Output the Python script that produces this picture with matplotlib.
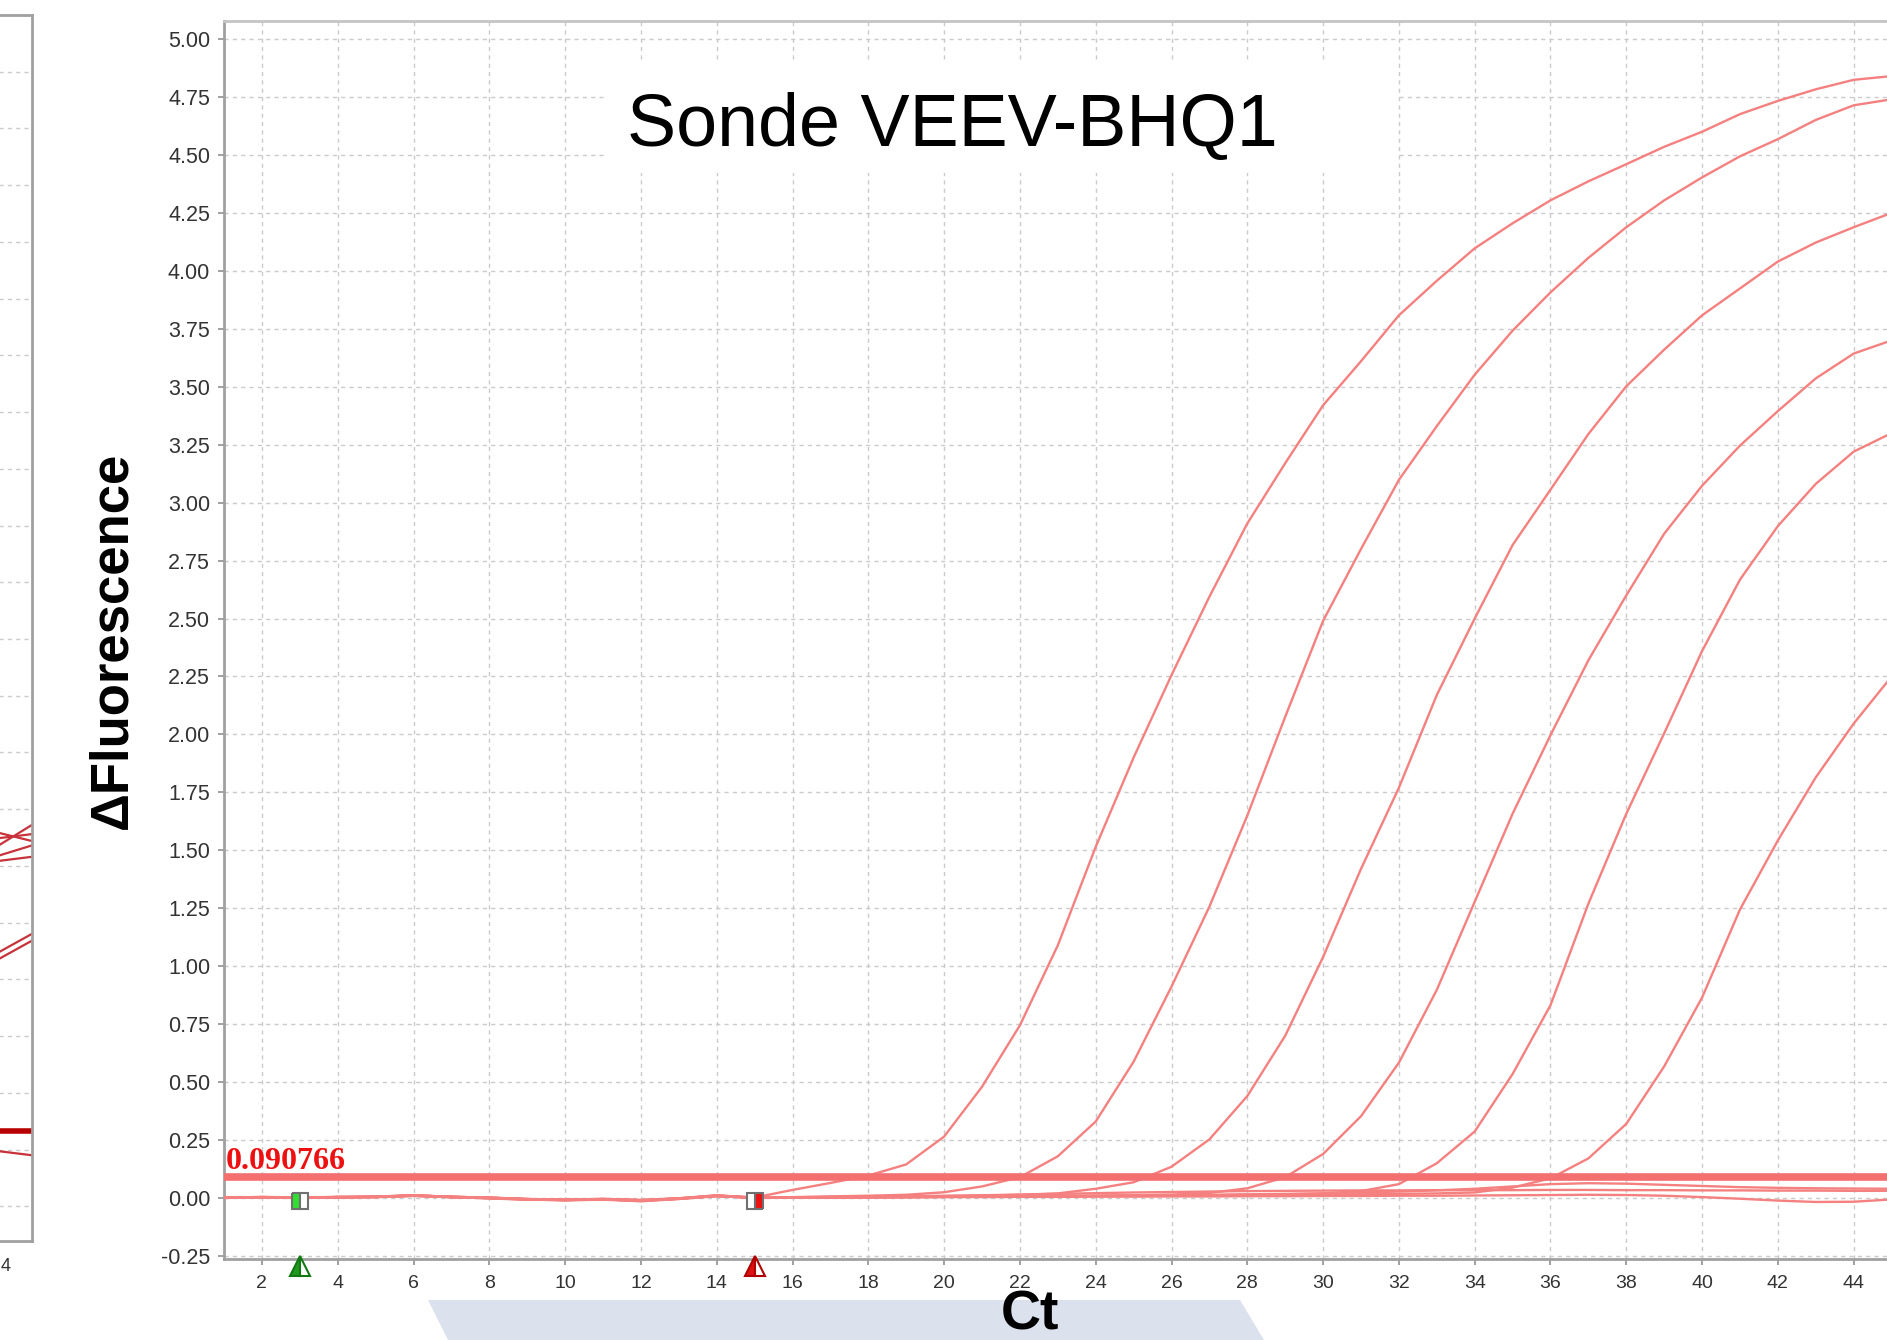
import matplotlib
matplotlib.use("Agg")
import matplotlib.pyplot as plt
from matplotlib.patches import Polygon, Rectangle
from matplotlib import font_manager

plt.rcParams['font.family'] = ['Liberation Sans', 'DejaVu Sans']

# ---- data -------------------------------------------------------------
cycles = list(range(1, 46))

curve1 = [0.004, 0.002, 0.000, 0.004, 0.006, 0.012, 0.004, 0.000, -0.006, -0.008, -0.003, -0.010, -0.002, 0.008, 0.002,
          0.035, 0.065, 0.097, 0.145, 0.265, 0.480, 0.745, 1.090, 1.515, 1.900, 2.256, 2.594, 2.910, 3.170, 3.420,
          3.610, 3.808, 3.957, 4.097, 4.205, 4.304, 4.386, 4.460, 4.535, 4.600, 4.676, 4.733, 4.783, 4.824, 4.840]
curve2 = [0.000, 0.004, 0.002, 0.003, 0.005, 0.010, 0.006, 0.001, -0.005, -0.007, -0.005, -0.008, -0.001, 0.012, 0.000,
          0.004, 0.007, 0.010, 0.014, 0.025, 0.050, 0.090, 0.180, 0.330, 0.588, 0.912, 1.257, 1.650, 2.076, 2.490,
          2.800, 3.098, 3.330, 3.552, 3.742, 3.907, 4.056, 4.188, 4.304, 4.403, 4.494, 4.568, 4.651, 4.714, 4.740]
curve3 = [0.003, 0.001, 0.004, 0.002, 0.004, 0.011, 0.005, -0.002, -0.007, -0.009, -0.006, -0.012, -0.003, 0.010, 0.001,
          0.002, 0.003, 0.005, 0.006, 0.008, 0.010, 0.014, 0.020, 0.040, 0.068, 0.135, 0.253, 0.440, 0.700, 1.040,
          1.420, 1.770, 2.170, 2.500, 2.817, 3.056, 3.296, 3.502, 3.660, 3.808, 3.924, 4.040, 4.122, 4.188, 4.250]
curve4 = [0.002, 0.003, 0.001, 0.005, 0.004, 0.010, 0.003, 0.001, -0.004, -0.009, -0.004, -0.011, -0.003, 0.011, 0.003,
          0.002, 0.004, 0.003, 0.005, 0.006, 0.006, 0.008, 0.009, 0.010, 0.012, 0.015, 0.022, 0.042, 0.090, 0.190,
          0.353, 0.584, 0.898, 1.278, 1.658, 1.997, 2.320, 2.600, 2.866, 3.073, 3.246, 3.395, 3.536, 3.643, 3.700]
curve5 = [0.001, 0.005, 0.002, 0.004, 0.006, 0.012, 0.005, 0.000, -0.006, -0.008, -0.005, -0.009, -0.002, 0.009, 0.001,
          0.003, 0.004, 0.003, 0.004, 0.005, 0.006, 0.007, 0.008, 0.009, 0.010, 0.011, 0.012, 0.014, 0.016, 0.020,
          0.030, 0.060, 0.150, 0.287, 0.535, 0.832, 1.270, 1.658, 2.005, 2.360, 2.668, 2.899, 3.081, 3.220, 3.300]
curve6 = [0.003, 0.002, 0.003, 0.003, 0.005, 0.011, 0.004, 0.002, -0.005, -0.007, -0.006, -0.010, -0.001, 0.010, 0.002,
          0.001, 0.003, 0.004, 0.004, 0.005, 0.006, 0.006, 0.008, 0.009, 0.010, 0.010, 0.012, 0.013, 0.014, 0.015,
          0.016, 0.018, 0.020, 0.024, 0.045, 0.085, 0.171, 0.320, 0.568, 0.865, 1.245, 1.543, 1.815, 2.047, 2.250]
neg_a = [0.002, 0.004, 0.001, 0.004, 0.005, 0.011, 0.006, 0.001, -0.005, -0.009, -0.005, -0.013, -0.002, 0.010, 0.000,
         0.002, 0.003, 0.004, 0.005, 0.006, 0.006, 0.007, 0.008, 0.009, 0.010, 0.012, 0.014, 0.016, 0.018, 0.020,
         0.024, 0.028, 0.033, 0.040, 0.050, 0.060, 0.064, 0.062, 0.057, 0.052, 0.047, 0.044, 0.042, 0.041, 0.040]
neg_b = [0.003, 0.003, 0.002, 0.005, 0.004, 0.009, 0.005, 0.002, -0.004, -0.008, -0.006, -0.011, -0.004, 0.009, 0.002,
         0.003, 0.005, 0.006, 0.008, 0.010, 0.012, 0.015, 0.018, 0.021, 0.024, 0.026, 0.028, 0.030, 0.031, 0.032,
         0.033, 0.033, 0.034, 0.034, 0.034, 0.035, 0.035, 0.034, 0.034, 0.033, 0.033, 0.032, 0.032, 0.031, 0.031]
neg_c = [0.001, 0.004, 0.003, 0.003, 0.006, 0.010, 0.004, -0.001, -0.006, -0.010, -0.007, -0.014, -0.004, 0.008, 0.001,
         0.001, 0.002, 0.003, 0.003, 0.004, 0.004, 0.005, 0.005, 0.006, 0.006, 0.007, 0.007, 0.008, 0.008, 0.009,
         0.009, 0.010, 0.010, 0.011, 0.012, 0.013, 0.014, 0.013, 0.010, 0.004, -0.003, -0.011, -0.017, -0.016, -0.006]

series = [neg_a, neg_b, neg_c, curve6, curve5, curve4, curve3, curve2, curve1]

threshold = 0.090766
baseline_start = 3
baseline_end = 15

y_ticks = [i * 0.25 - 0.25 for i in range(22)]
x_ticks = list(range(2, 46, 2))

# right edge of the neighbouring (cut off) chart
left_cycles = [44, 45]
left_lines = [[1.33, 1.43], [1.37, 1.39], [1.40, 1.36], [1.29, 1.34], [1.27, 1.29],
              [0.86, 0.95], [0.83, 0.92], [-0.005, -0.025]]
left_threshold = 0.08
left_tick_fragment = '4'

# ---- figure -----------------------------------------------------------
W, H = 1887, 1340
fig = plt.figure(figsize=(W / 100, H / 100), dpi=100)

names = {f.name for f in font_manager.fontManager.ttflist}
narrow = 'Liberation Sans Narrow' if 'Liberation Sans Narrow' in names else 'Liberation Sans'

grid_kw = dict(color='#cbcbcb', lw=1.0, linestyle=(0, (3, 3)))
spine_col = '#a0a0a0'

# cut-off neighbouring panel on the far left
axl = fig.add_axes([-300 / W, 1 - 1241 / H, 331.7 / W, (1241 - 15) / H])
axl.set_xlim(36, 45)
axl.set_ylim(-0.403, 4.97)
axl.set_yticks(y_ticks)
axl.set_xticks([])
axl.tick_params(axis='y', length=0, labelleft=False)
axl.grid(axis='y', **grid_kw)
axl.spines['left'].set_visible(False)
for side in ['right', 'bottom', 'top']:
    axl.spines[side].set_color(spine_col)
    axl.spines[side].set_linewidth(2)
for vals in left_lines:
    axl.plot(left_cycles, vals, color='#c8323a', lw=1.6)
axl.axhline(left_threshold, color='#b80000', lw=4)
fig.text(1 / W, 1 - 1258 / H, left_tick_fragment, fontsize=13, color='#333333',
         family=narrow, ha='left', va='top')

# main chart
ax = fig.add_axes([224 / W, 1 - 1259 / H, 45 * 37.9 / W, (1259 - 20.7) / H])
ax.set_xlim(1, 46)
ax.set_ylim(-0.263, 5.079)
ax.set_yticks(y_ticks)
ax.set_yticklabels([f"{v:.2f}" for v in y_ticks])
ax.set_xticks(x_ticks)
ax.tick_params(axis='y', labelsize=15.5, colors='#333333', length=4.5, width=1.2, pad=5.5)
ax.tick_params(axis='x', labelsize=14, colors='#333333', length=4.5, width=1.2, pad=7)
for lab in ax.get_xticklabels():
    lab.set_family(narrow)
ax.tick_params(color='#909090')
ax.set_axisbelow(True)
ax.grid(True, **grid_kw)
ax.spines['left'].set_color(spine_col)
ax.spines['bottom'].set_color(spine_col)
ax.spines['top'].set_color('#c4c4c4')
for side in ['left', 'bottom', 'top']:
    ax.spines[side].set_linewidth(2)
ax.spines['right'].set_visible(False)

# white box behind the title hides the grid
ax.add_patch(Rectangle((606 / W, 1 - 173 / H), (1398 - 606) / W, 110 / H,
                       transform=fig.transFigure, facecolor='white', edgecolor='none', zorder=1))

for vals in series:
    ax.plot(cycles, vals, color='#f58080', lw=1.7, zorder=3)

ax.axhline(threshold, color='#f47070', lw=5.5, zorder=4)
ax.text(1.05, threshold + 0.004, f"{threshold:.6f}", color='#ee1010', fontsize=23,
        family='Liberation Serif', fontweight='bold', va='bottom', ha='left', zorder=5)

# baseline range markers
ax.plot([baseline_start], [-0.013], marker='s', ms=11, fillstyle='left',
        markerfacecolor='#2fe02f', markerfacecoloralt='white', markeredgecolor='#707070',
        mew=1.5, zorder=6, clip_on=False)
ax.plot([baseline_end], [-0.013], marker='s', ms=11, fillstyle='right',
        markerfacecolor='#ee1111', markerfacecoloralt='white', markeredgecolor='#707070',
        mew=1.5, zorder=6, clip_on=False)
ax.plot([baseline_start], [-0.293], marker='^', ms=15, fillstyle='left',
        markerfacecolor='#1f9a1f', markerfacecoloralt='white', markeredgecolor='#137a13',
        mew=1.5, zorder=6, clip_on=False)
ax.plot([baseline_end], [-0.293], marker='^', ms=15, fillstyle='left',
        markerfacecolor='#dd1111', markerfacecoloralt='white', markeredgecolor='#b00000',
        mew=1.5, zorder=6, clip_on=False)

# title and axis labels
fig.text(952 / W, 1 - 146 / H, 'Sonde VEEV-BHQ1', fontsize=53, ha='center', va='baseline',
         color='black')
fig.text(112 / W, 1 - 640 / H, '\u0394Fluorescence', fontsize=38, fontweight='bold',
         rotation=90, ha='center', va='center', color='black')

# slide decoration behind the x label
fig.patches.append(Polygon([(428 / W, 1 - 1300 / H), (1240 / W, 1 - 1300 / H),
                            (1264 / W, 0), (448 / W, 0)], closed=True,
                           transform=fig.transFigure, facecolor='#dce1ee',
                           edgecolor='none', zorder=0))
fig.text(1030 / W, 1 - 1329 / H, 'Ct', fontsize=40, fontweight='bold', ha='center',
         va='baseline', color='black')

fig.savefig('out.png', dpi=100)
